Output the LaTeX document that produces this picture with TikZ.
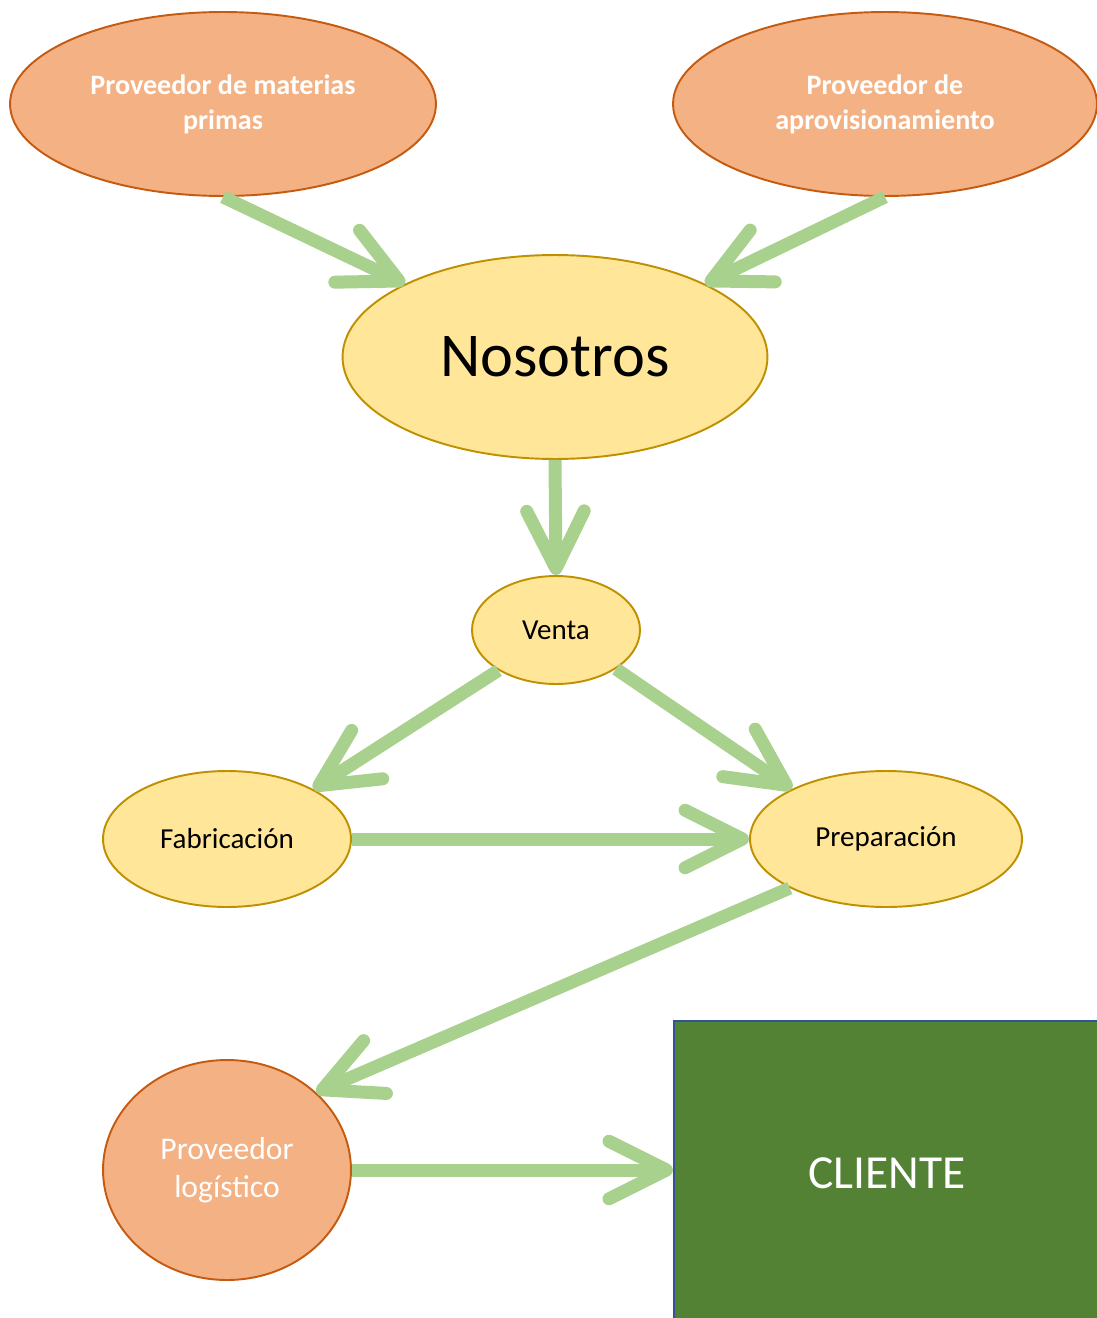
\documentclass[tikz,border=0pt]{standalone}
\usepackage{fontspec}
\setmainfont{Carlito}
\usepackage{xcolor}
\usetikzlibrary{shapes.geometric,arrows.meta}

\definecolor{prov}{HTML}{F4B183}
\definecolor{provline}{HTML}{C55A11}
\definecolor{etapa}{HTML}{FFE699}
\definecolor{etapaline}{HTML}{BF9000}
\definecolor{flecha}{HTML}{A9D18E}
\definecolor{cliente}{HTML}{548235}
\definecolor{clienteline}{HTML}{2F5597}

\begin{document}
\begin{tikzpicture}[x=0.02cm, y=-0.02cm,
  provbox/.style={ellipse, fill=prov, draw=provline, line width=1.1pt, inner sep=0pt, text=white, align=center},
  etapabox/.style={ellipse, fill=etapa, draw=etapaline, line width=1.1pt, inner sep=0pt, align=center,
    font=\fontsize{16.5}{20}\selectfont},
  flujo/.style={draw=flecha, line width=0.26cm, -{Straight Barb[length=1.15cm, width=1.15cm, round]}}]
\useasboundingbox (0,0) rectangle (1097,1318);

% Proveedores de arriba
\node[provbox, minimum width=8.52cm, minimum height=3.68cm, font=\bfseries\fontsize{16}{19.8}\selectfont]
  (pmp) at (223,104) {Proveedor de materias\\primas};
\node[provbox, minimum width=8.48cm, minimum height=3.68cm, font=\bfseries\fontsize{16}{19.8}\selectfont]
  (pa) at (885,104) {Proveedor de\\aprovisionamiento};

% Nosotros
\node[etapabox, minimum width=8.5cm, minimum height=4.08cm, font=\fontsize{35.5}{42}\selectfont]
  (nos) at (555,357) {Nosotros};

% Etapas
\node[etapabox, minimum width=3.36cm, minimum height=2.16cm] (venta) at (556,630) {Venta};
\node[etapabox, minimum width=4.96cm, minimum height=2.72cm] (fab) at (227,839) {Fabricación};
\node[etapabox, minimum width=5.44cm, minimum height=2.72cm] (prep) at (886,839) {Preparación};

% Proveedor logistico y cliente
\node[provbox, minimum width=4.96cm, minimum height=4.4cm, font=\fontsize{18}{21.5}\selectfont]
  (pl) at (227,1170) {Proveedor\\logístico};
\node[rectangle, anchor=north west, minimum width=8.52cm, minimum height=6.08cm, fill=cliente,
  draw=clienteline, line width=1.1pt, text=white, font=\fontsize{27}{32}\selectfont]
  (cli) at (673,1020) {CLIENTE};

% Flechas
\draw[flujo] (pmp.south) -- (nos.154);
\draw[flujo] (pa.south) -- (nos.26);
\draw[flujo] (nos.south) -- (venta.north);
\draw[flujo] (venta.215) -- (fab.30);
\draw[flujo] (venta.327) -- (prep.152);
\draw[flujo] (fab.east) -- (prep.west);
\draw[flujo] (prep.207) -- (pl.41);
\draw[flujo] (pl.east) -- (pl.east -| cli.west);
\end{tikzpicture}
\end{document}
